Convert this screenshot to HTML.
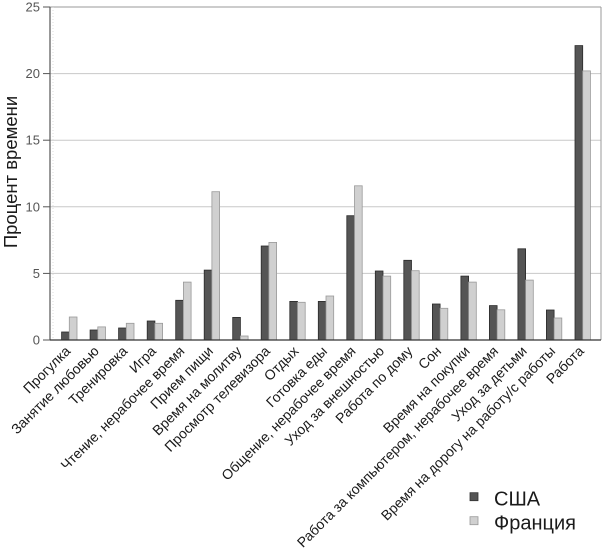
<!DOCTYPE html>
<html>
<head>
<meta charset="utf-8">
<style>
html,body{margin:0;padding:0;background:#fff;}
svg{display:block;font-family:"Liberation Sans","Noto Sans CJK SC",sans-serif;}
</style>
</head>
<body>
<svg width="604" height="553" viewBox="0 0 604 553" xmlns="http://www.w3.org/2000/svg">
  <rect x="0" y="0" width="604" height="553" fill="#fff"/>
  <!-- grid -->
  <g stroke="#c8c8c8" stroke-width="1">
    <line x1="50" y1="273.4" x2="601" y2="273.4"/>
    <line x1="50" y1="206.8" x2="601" y2="206.8"/>
    <line x1="50" y1="140.2" x2="601" y2="140.2"/>
    <line x1="50" y1="73.6" x2="601" y2="73.6"/>
  </g>
  <line x1="50" y1="7" x2="601" y2="7" stroke="#9a9a9a" stroke-width="1"/>
  <line x1="601" y1="7" x2="601" y2="340" stroke="#9a9a9a" stroke-width="1"/>
  <line x1="53" y1="7" x2="53" y2="340" stroke="#ddd" stroke-width="1" stroke-dasharray="1,2"/>

  <!-- bars USA -->
  <g fill="#555" stroke="#2a2a2a" stroke-width="0.8">
    <rect x="61.6" y="332.0" width="7.7" height="8.0"/>
    <rect x="90.1" y="330.0" width="7.7" height="10.0"/>
    <rect x="118.6" y="328.0" width="7.7" height="12.0"/>
    <rect x="147.2" y="321.0" width="7.7" height="19.0"/>
    <rect x="175.7" y="300.3" width="7.7" height="39.7"/>
    <rect x="204.2" y="270.1" width="7.7" height="69.9"/>
    <rect x="232.7" y="317.4" width="7.7" height="22.6"/>
    <rect x="261.2" y="246.0" width="7.7" height="94.0"/>
    <rect x="289.8" y="301.4" width="7.7" height="38.6"/>
    <rect x="318.3" y="301.4" width="7.7" height="38.6"/>
    <rect x="346.8" y="215.7" width="7.7" height="124.3"/>
    <rect x="375.3" y="271.0" width="7.7" height="69.0"/>
    <rect x="403.8" y="260.3" width="7.7" height="79.7"/>
    <rect x="432.4" y="304.0" width="7.7" height="36.0"/>
    <rect x="460.9" y="276.1" width="7.7" height="63.9"/>
    <rect x="489.4" y="305.6" width="7.7" height="34.4"/>
    <rect x="517.9" y="248.8" width="7.7" height="91.2"/>
    <rect x="546.4" y="310.0" width="7.7" height="30.0"/>
    <rect x="575.0" y="45.6" width="7.7" height="294.4"/>
  </g>
  <!-- bars France -->
  <g fill="#d0d0d0" stroke="#999" stroke-width="0.8">
    <rect x="69.3" y="317.0" width="7.7" height="23.0"/>
    <rect x="97.8" y="326.9" width="7.7" height="13.1"/>
    <rect x="126.3" y="323.3" width="7.7" height="16.7"/>
    <rect x="154.9" y="323.3" width="7.7" height="16.7"/>
    <rect x="183.4" y="282.1" width="7.7" height="57.9"/>
    <rect x="211.9" y="191.7" width="7.7" height="148.3"/>
    <rect x="240.4" y="336.0" width="7.7" height="4.0"/>
    <rect x="268.9" y="242.4" width="7.7" height="97.6"/>
    <rect x="297.5" y="302.3" width="7.7" height="37.7"/>
    <rect x="326.0" y="296.0" width="7.7" height="44.0"/>
    <rect x="354.5" y="185.8" width="7.7" height="154.2"/>
    <rect x="383.0" y="276.1" width="7.7" height="63.9"/>
    <rect x="411.5" y="270.7" width="7.7" height="69.3"/>
    <rect x="440.1" y="308.3" width="7.7" height="31.7"/>
    <rect x="468.6" y="282.1" width="7.7" height="57.9"/>
    <rect x="497.1" y="309.8" width="7.7" height="30.2"/>
    <rect x="525.6" y="280.1" width="7.7" height="59.9"/>
    <rect x="554.1" y="318.0" width="7.7" height="22.0"/>
    <rect x="582.7" y="70.9" width="7.7" height="269.1"/>
  </g>

  <!-- axes -->
  <line x1="50" y1="7" x2="50" y2="340.5" stroke="#555" stroke-width="1.2"/>
  <line x1="50" y1="340" x2="601" y2="340" stroke="#333" stroke-width="1.2"/>
  <g stroke="#555" stroke-width="1">
    <line x1="43" y1="340" x2="50" y2="340"/>
    <line x1="43" y1="273.4" x2="50" y2="273.4"/>
    <line x1="43" y1="206.8" x2="50" y2="206.8"/>
    <line x1="43" y1="140.2" x2="50" y2="140.2"/>
    <line x1="43" y1="73.6" x2="50" y2="73.6"/>
    <line x1="43" y1="7" x2="50" y2="7"/>
  </g>
  <g font-size="13" fill="#555" text-anchor="end">
    <text x="40" y="344.5">0</text>
    <text x="40" y="277.9">5</text>
    <text x="40" y="211.3">10</text>
    <text x="40" y="144.7">15</text>
    <text x="40" y="78.1">20</text>
    <text x="40" y="11.5">25</text>
  </g>

  <text transform="translate(17,172) rotate(-90)" font-size="18.5" fill="#1a1a1a" text-anchor="middle">Процент времени</text>

  <!-- x labels -->
  <g font-size="14" fill="#1a1a1a" text-anchor="end">
    <text transform="translate(71.3,352) rotate(-45)">Прогулка</text>
    <text transform="translate(99.8,352) rotate(-45)">Занятие любовью</text>
    <text transform="translate(128.3,352) rotate(-45)">Тренировка</text>
    <text transform="translate(156.9,352) rotate(-45)">Игра</text>
    <text transform="translate(185.4,352) rotate(-45)">Чтение, нерабочее время</text>
    <text transform="translate(213.9,352) rotate(-45)">Прием пищи</text>
    <text transform="translate(242.4,352) rotate(-45)">Время на молитву</text>
    <text transform="translate(270.9,352) rotate(-45)">Просмотр телевизора</text>
    <text transform="translate(299.5,352) rotate(-45)">Отдых</text>
    <text transform="translate(328.0,352) rotate(-45)">Готовка еды</text>
    <text transform="translate(356.5,352) rotate(-45)">Общение, нерабочее время</text>
    <text transform="translate(385.0,352) rotate(-45)">Уход за внешностью</text>
    <text transform="translate(413.5,352) rotate(-45)">Работа по дому</text>
    <text transform="translate(442.1,352) rotate(-45)">Сон</text>
    <text transform="translate(470.6,352) rotate(-45)">Время на покупки</text>
    <text transform="translate(499.1,352) rotate(-45)">Работа за компьютером, нерабочее время</text>
    <text transform="translate(527.6,352) rotate(-45)">Уход за детьми</text>
    <text transform="translate(556.1,352) rotate(-45)">Время на дорогу на работу/с работы</text>
    <text transform="translate(584.7,352) rotate(-45)">Работа</text>
  </g>

  <!-- legend -->
  <rect x="470" y="492.7" width="8" height="8" fill="#555" stroke="#333" stroke-width="0.8"/>
  <rect x="470" y="516.7" width="8" height="8" fill="#d0d0d0" stroke="#999" stroke-width="0.8"/>
  <text x="494" y="505.7" font-size="20" fill="#1a1a1a">США</text>
  <text x="494" y="529.5" font-size="20" fill="#1a1a1a">Франция</text>
</svg>
</body>
</html>
